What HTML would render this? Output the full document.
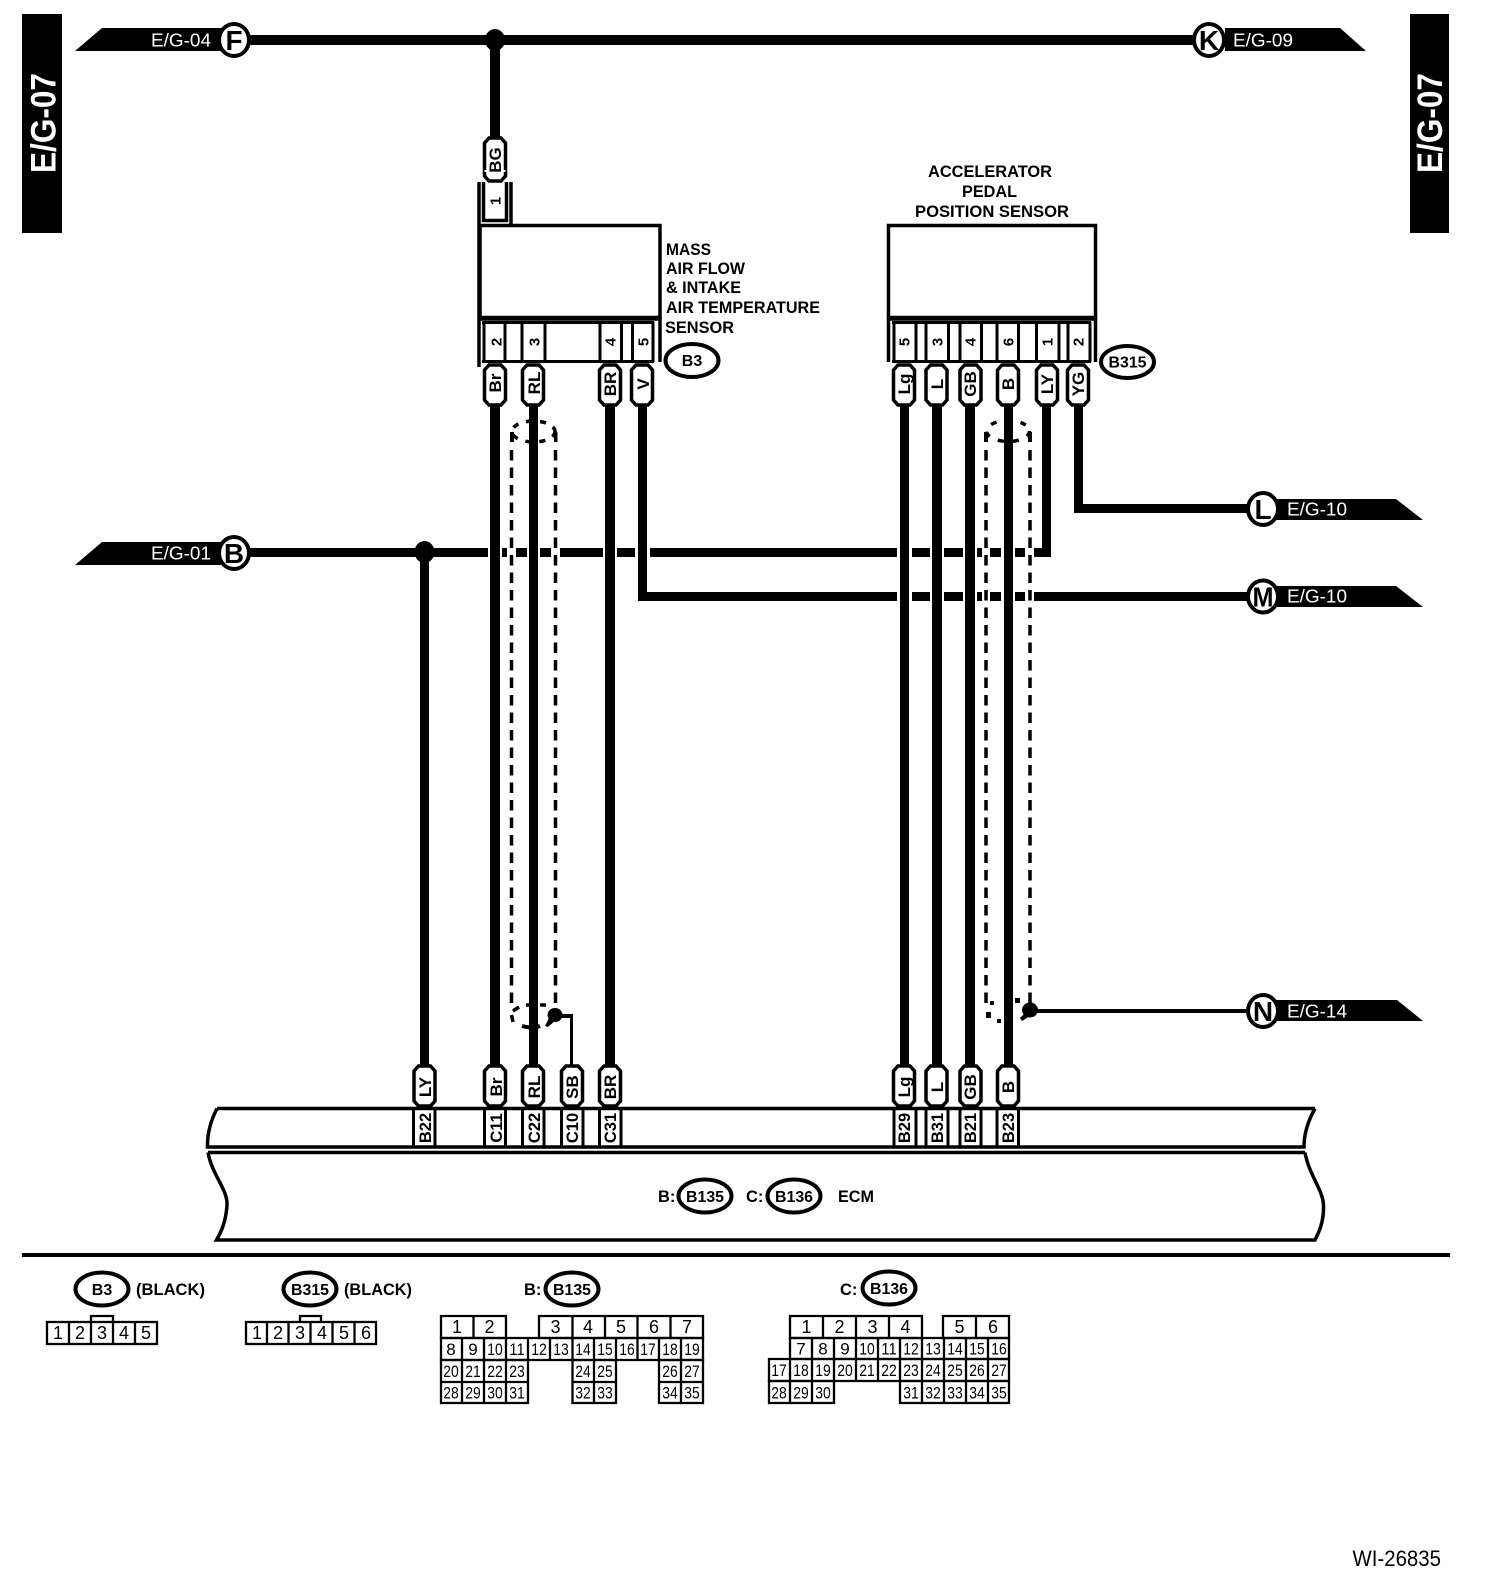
<!DOCTYPE html>
<html>
<head>
<meta charset="utf-8">
<title>WI-26835</title>
<style>
html,body{margin:0;padding:0;background:#fff;width:1504px;height:1596px;overflow:hidden}
svg{display:block}
text{font-family:"Liberation Sans",sans-serif;fill:#000}
.b{font-weight:bold}
.w{fill:#fff;font-size:18.5px}
.rot{font-weight:bold;font-size:15px;text-anchor:middle}
.rl{font-weight:bold;font-size:17px;text-anchor:middle}
.rc{font-weight:bold;font-size:16.5px;text-anchor:middle}
.ll{font-weight:bold;font-size:16.5px}
.oc{font-weight:bold;font-size:16px;text-anchor:middle}
.let{font-weight:bold;font-size:28px;text-anchor:middle}
.g{font-size:17px;text-anchor:middle}
.g1{font-size:18px;text-anchor:middle}
</style>
</head>
<body>
<svg xmlns="http://www.w3.org/2000/svg" width="1504" height="1596" viewBox="0 0 1504 1596">
<defs>
<path id="pill" d="M-6,0 H6 L10.5,5 V35 L6,40 H-6 L-10.5,35 V5 Z" fill="#fff" stroke="#000" stroke-width="3.5"/>
</defs>
<rect width="1504" height="1596" fill="#fff"/>

<!-- side bars -->
<rect x="22" y="14" width="40" height="219" fill="#000"/>
<rect x="1410" y="14" width="39" height="219" fill="#000"/>
<text class="b" style="fill:#fff;font-size:35px" text-anchor="middle" transform="translate(43,123) rotate(-90)" dy=".36em" textLength="100" lengthAdjust="spacingAndGlyphs">E/G-07</text>
<text class="b" style="fill:#fff;font-size:35px" text-anchor="middle" transform="translate(1429.5,123) rotate(-90)" dy=".36em" textLength="100" lengthAdjust="spacingAndGlyphs">E/G-07</text>

<!-- flags -->
<g fill="#000">
<polygon points="75,51 102,28 222,28 222,51"/>
<polygon points="1225,28 1340,28 1366,51 1225,51"/>
<polygon points="75,565 102,542 222,542 222,565"/>
<polygon points="1275,499 1396,499 1423,520 1275,520"/>
<polygon points="1275,586 1396,586 1423,607 1275,607"/>
<polygon points="1275,1000 1397,1000 1423,1021 1275,1021"/>
</g>
<text class="w" x="151" y="46.5" textLength="60" lengthAdjust="spacingAndGlyphs">E/G-04</text>
<text class="w" x="1233" y="46.5" textLength="60" lengthAdjust="spacingAndGlyphs">E/G-09</text>
<text class="w" x="151" y="559.5" textLength="60" lengthAdjust="spacingAndGlyphs">E/G-01</text>
<text class="w" x="1287" y="515.5" textLength="60" lengthAdjust="spacingAndGlyphs">E/G-10</text>
<text class="w" x="1287" y="602.5" textLength="60" lengthAdjust="spacingAndGlyphs">E/G-10</text>
<text class="w" x="1287" y="1017.5" textLength="60" lengthAdjust="spacingAndGlyphs">E/G-14</text>

<!-- thick wires -->
<g fill="#000">
<rect x="245" y="35" width="950" height="10"/>
<rect x="490" y="40" width="10" height="97"/>
<ellipse cx="495" cy="40" rx="10" ry="11"/>
<!-- B line segments -->
<rect x="240" y="548" width="248" height="9"/>
<rect x="502" y="548" width="5" height="9"/>
<rect x="516" y="548" width="11" height="9"/>
<rect x="540" y="548" width="11" height="9"/>
<rect x="560" y="548" width="43" height="9"/>
<rect x="617" y="548" width="18" height="9"/>
<rect x="650" y="548" width="247" height="9"/>
<rect x="912" y="548" width="18" height="9"/>
<rect x="944" y="548" width="19" height="9"/>
<rect x="977" y="548" width="5" height="9"/>
<rect x="990" y="548" width="11" height="9"/>
<rect x="1015" y="548" width="10" height="9"/>
<rect x="1034" y="548" width="17" height="9"/>
<rect x="1042" y="405" width="9" height="152"/>
<ellipse cx="424.5" cy="552" rx="10" ry="11"/>
<rect x="420" y="552" width="9" height="513"/>
<!-- M line segments -->
<rect x="638" y="405" width="9" height="196"/>
<rect x="638" y="592" width="259" height="9"/>
<rect x="912" y="592" width="18" height="9"/>
<rect x="944" y="592" width="19" height="9"/>
<rect x="977" y="592" width="5" height="9"/>
<rect x="990" y="592" width="11" height="9"/>
<rect x="1015" y="592" width="10" height="9"/>
<rect x="1034" y="592" width="220" height="9"/>
<!-- YG -->
<rect x="1074" y="405" width="9" height="107"/>
<rect x="1074" y="504" width="180" height="9"/>
<!-- verticals -->
<rect x="490" y="405" width="10" height="660"/>
<rect x="529" y="405" width="9" height="660"/>
<rect x="605" y="405" width="10" height="660"/>
<rect x="900" y="405" width="9" height="660"/>
<rect x="932" y="405" width="10" height="660"/>
<rect x="965" y="405" width="10" height="660"/>
<rect x="1004" y="405" width="9" height="660"/>
</g>

<!-- shields -->
<g stroke="#000" stroke-width="3.5" fill="none">
<path d="M511.5,450V1003M555.5,450V1003M986,450V1003M1030,450V1003" stroke-dasharray="10.5 7"/>
<ellipse cx="533.5" cy="431.5" rx="21.5" ry="10.5" stroke-dasharray="6 8"/>
<ellipse cx="1008" cy="431" rx="21.5" ry="10.5" stroke-dasharray="6 9"/>
<path d="M519,1007 L513,1011 M511.5,1015 L513,1022" stroke-width="3.5"/>
<path d="M522,1026 Q532,1029 540,1026" stroke-width="4"/>
<path d="M526,1005 H530 M540,1005 H546" stroke-width="3.5"/>
</g>
<g fill="#000">
<rect x="510" y="432" width="4" height="10"/>
<rect x="554" y="432" width="3.5" height="10"/>
<rect x="984" y="432" width="4" height="10"/>
<rect x="1028" y="432" width="4" height="10"/>
<ellipse cx="555" cy="1015" rx="7.5" ry="7"/>
<polygon points="549,1018 556,1020 548,1027 545,1026"/>
<rect x="555" y="1014" width="18" height="4"/>
<rect x="570" y="1014" width="3" height="52"/>
<ellipse cx="1030" cy="1010" rx="8" ry="7.5"/>
<polygon points="1024,1014 1030,1016 1022,1021 1020,1018"/>
<rect x="1030" y="1009" width="216" height="4"/>
<rect x="990" y="1001" width="4" height="4"/>
<rect x="986" y="1012" width="5" height="6"/>
<rect x="997" y="1019" width="4" height="4"/>
<rect x="1015" y="998" width="5" height="5"/>
</g>

<!-- letter circles -->
<g fill="#fff" stroke="#000" stroke-width="4">
<ellipse cx="234" cy="40" rx="15" ry="16"/>
<ellipse cx="1209" cy="40" rx="15" ry="16"/>
<ellipse cx="234" cy="553" rx="15" ry="16"/>
<ellipse cx="1263" cy="509" rx="15" ry="16"/>
<ellipse cx="1263" cy="596.5" rx="15" ry="16"/>
<ellipse cx="1263" cy="1011" rx="15" ry="16"/>
</g>
<text class="let" x="234" y="50">F</text>
<text class="let" x="1209" y="50">K</text>
<text class="let" x="234" y="563">B</text>
<text class="let" x="1263" y="519">L</text>
<text class="let" x="1263" y="606.5" textLength="21" lengthAdjust="spacingAndGlyphs">M</text>
<text class="let" x="1263" y="1021">N</text>

<!-- MAF sensor -->
<g fill="none" stroke="#000" stroke-width="3.5">
<rect x="480" y="225.5" width="180" height="92"/>
<path d="M479,182V367M511,182V224M660,317V362"/>
<path d="M483.5,182V220.5H506.5V182" fill="#fff" stroke-width="3.5"/>
<path d="M480,319H660" stroke-width="3.5"/>
<path d="M482,322.5H654M482,361.5H654" stroke-width="3"/>
<path d="M484,322V362M505,322V362M522,322V362M545,322V362M600,322V362M621.5,322V362M632.5,322V362M653,322V362" stroke-width="3"/>
</g>
<!-- APP sensor -->
<g fill="none" stroke="#000" stroke-width="3.5">
<rect x="888.5" y="225.5" width="207" height="92"/>
<path d="M888.5,317V362M1095.5,317V362"/>
<path d="M888,319H1096"/>
<path d="M892,322.5H1091M892,361.5H1091" stroke-width="3"/>
<path d="M894,322V362M916,322V362M926,322V362M948.5,322V362M960,322V362M981.5,322V362M997,322V362M1018.5,322V362M1036.5,322V362M1059,322V362M1068,322V362M1090,322V362" stroke-width="3"/>
</g>

<!-- pills -->
<use href="#pill" x="495" y="138" />
<rect x="484.5" y="170" width="21" height="10" fill="#fff"/>
<path d="M484.5,172V176L489,181H501L505.5,176V172" fill="none" stroke="#000" stroke-width="3.5"/>
<use href="#pill" x="495" y="365"/>
<use href="#pill" x="533" y="365"/>
<use href="#pill" x="610" y="365"/>
<use href="#pill" x="642" y="365"/>
<use href="#pill" x="904" y="365"/>
<use href="#pill" x="936.5" y="365"/>
<use href="#pill" x="970.5" y="365"/>
<use href="#pill" x="1008" y="365"/>
<use href="#pill" x="1047" y="365"/>
<use href="#pill" x="1078" y="365"/>
<use href="#pill" x="424.5" y="1066"/>
<use href="#pill" x="495" y="1066"/>
<use href="#pill" x="533" y="1066"/>
<use href="#pill" x="572" y="1066"/>
<use href="#pill" x="610" y="1066"/>
<use href="#pill" x="904" y="1066"/>
<use href="#pill" x="936.5" y="1066"/>
<use href="#pill" x="970.5" y="1066"/>
<use href="#pill" x="1008" y="1066"/>

<!-- rotated labels -->
<text class="rl" transform="translate(495,160) rotate(-90)" dy=".36em">BG</text>
<text class="rot" transform="translate(495,201) rotate(-90)" dy=".36em">1</text>
<text class="rot" transform="translate(496,342) rotate(-90)" dy=".36em">2</text>
<text class="rot" transform="translate(534,342) rotate(-90)" dy=".36em">3</text>
<text class="rot" transform="translate(610,342) rotate(-90)" dy=".36em">4</text>
<text class="rot" transform="translate(643,342) rotate(-90)" dy=".36em">5</text>
<text class="rot" transform="translate(904,342) rotate(-90)" dy=".36em">5</text>
<text class="rot" transform="translate(937,342) rotate(-90)" dy=".36em">3</text>
<text class="rot" transform="translate(970,342) rotate(-90)" dy=".36em">4</text>
<text class="rot" transform="translate(1008,342) rotate(-90)" dy=".36em">6</text>
<text class="rot" transform="translate(1047,342) rotate(-90)" dy=".36em">1</text>
<text class="rot" transform="translate(1078,342) rotate(-90)" dy=".36em">2</text>

<text class="rl" transform="translate(495,383) rotate(-90)" dy=".36em">Br</text>
<text class="rl" transform="translate(534,383) rotate(-90)" dy=".36em">RL</text>
<text class="rl" transform="translate(610,384) rotate(-90)" dy=".36em">BR</text>
<text class="rl" transform="translate(643,384) rotate(-90)" dy=".36em">V</text>
<text class="rl" transform="translate(904,384) rotate(-90)" dy=".36em">Lg</text>
<text class="rl" transform="translate(937,384) rotate(-90)" dy=".36em">L</text>
<text class="rl" transform="translate(970,384) rotate(-90)" dy=".36em">GB</text>
<text class="rl" transform="translate(1008,384) rotate(-90)" dy=".36em">B</text>
<text class="rl" transform="translate(1047,384) rotate(-90)" dy=".36em">LY</text>
<text class="rl" transform="translate(1078,384) rotate(-90)" dy=".36em">YG</text>

<text class="rl" transform="translate(425,1087) rotate(-90)" dy=".36em">LY</text>
<text class="rl" transform="translate(496,1087) rotate(-90)" dy=".36em">Br</text>
<text class="rl" transform="translate(534,1087) rotate(-90)" dy=".36em">RL</text>
<text class="rl" transform="translate(572,1087) rotate(-90)" dy=".36em">SB</text>
<text class="rl" transform="translate(610,1087) rotate(-90)" dy=".36em">BR</text>
<text class="rl" transform="translate(904,1087) rotate(-90)" dy=".36em">Lg</text>
<text class="rl" transform="translate(937,1087) rotate(-90)" dy=".36em">L</text>
<text class="rl" transform="translate(970,1087) rotate(-90)" dy=".36em">GB</text>
<text class="rl" transform="translate(1008,1087) rotate(-90)" dy=".36em">B</text>

<!-- sensor labels -->
<text class="ll" x="666" y="255" textLength="45" lengthAdjust="spacingAndGlyphs">MASS</text>
<text class="ll" x="666" y="274" textLength="79" lengthAdjust="spacingAndGlyphs">AIR FLOW</text>
<text class="ll" x="666" y="293" textLength="75" lengthAdjust="spacingAndGlyphs">&amp; INTAKE</text>
<text class="ll" x="666" y="313" textLength="154" lengthAdjust="spacingAndGlyphs">AIR TEMPERATURE</text>
<text class="ll" x="665" y="333" textLength="69" lengthAdjust="spacingAndGlyphs">SENSOR</text>
<text class="ll" x="928" y="177" textLength="124" lengthAdjust="spacingAndGlyphs">ACCELERATOR</text>
<text class="ll" x="962" y="197" textLength="55" lengthAdjust="spacingAndGlyphs">PEDAL</text>
<text class="ll" x="915" y="217" textLength="154" lengthAdjust="spacingAndGlyphs">POSITION SENSOR</text>

<!-- connector ovals -->
<g fill="#fff" stroke="#000" stroke-width="4">
<ellipse cx="692" cy="360.5" rx="26.5" ry="16.5"/>
<ellipse cx="1127.5" cy="362" rx="26.5" ry="16"/>
<ellipse cx="705" cy="1196" rx="26.5" ry="16.5"/>
<ellipse cx="794" cy="1196" rx="26.5" ry="16.5"/>
<ellipse cx="102" cy="1289" rx="26.5" ry="16.5"/>
<ellipse cx="310" cy="1289" rx="26.5" ry="16.5"/>
<ellipse cx="572" cy="1289" rx="26.5" ry="16.5"/>
<ellipse cx="889" cy="1288" rx="26.5" ry="16.5"/>
</g>
<text class="oc" x="692" y="366">B3</text>
<text class="oc" x="1127.5" y="367.5" textLength="38" lengthAdjust="spacingAndGlyphs">B315</text>
<text class="oc" x="705" y="1202" textLength="38" lengthAdjust="spacingAndGlyphs">B135</text>
<text class="oc" x="794" y="1202" textLength="38" lengthAdjust="spacingAndGlyphs">B136</text>
<text class="oc" x="102" y="1295">B3</text>
<text class="oc" x="310" y="1295" textLength="38" lengthAdjust="spacingAndGlyphs">B315</text>
<text class="oc" x="572" y="1295" textLength="38" lengthAdjust="spacingAndGlyphs">B135</text>
<text class="oc" x="889" y="1294" textLength="38" lengthAdjust="spacingAndGlyphs">B136</text>
<text class="ll" x="658" y="1202">B:</text>
<text class="ll" x="746" y="1202">C:</text>
<text class="ll" x="838" y="1202" textLength="36" lengthAdjust="spacingAndGlyphs">ECM</text>
<text class="ll" x="136" y="1295" textLength="69" lengthAdjust="spacingAndGlyphs">(BLACK)</text>
<text class="ll" x="344" y="1295" textLength="68" lengthAdjust="spacingAndGlyphs">(BLACK)</text>
<text class="ll" x="524" y="1295">B:</text>
<text class="ll" x="840" y="1295">C:</text>

<!-- ECM -->
<g fill="none" stroke="#000" stroke-width="3.5">
<path d="M217,1108.5H1315"/>
<path d="M217,1108.5Q207,1128 207.5,1147 H1304 Q1304,1128 1315,1108.5"/>
<path d="M208,1152.5 H1305"/>
<path d="M208,1152.5 C212,1175 228,1190 227,1205 C226,1222 221,1232 216.5,1240 H1315 C1319,1232 1324,1222 1323.5,1205 C1323,1190 1309,1175 1305,1152.5"/>
<path d="M413.5,1110V1146M435,1110V1146M484.5,1110V1146M505.5,1110V1146M522.5,1110V1146M544,1110V1146M561.5,1110V1146M583,1110V1146M599.5,1110V1146M621,1110V1146M894,1110V1146M916,1110V1146M926,1110V1146M948,1110V1146M960,1110V1146M981,1110V1146M997,1110V1146M1018.5,1110V1146" stroke-width="3"/>
</g>
<text class="rc" transform="translate(425,1128) rotate(-90)" dy=".36em">B22</text>
<text class="rc" transform="translate(496,1128) rotate(-90)" dy=".36em">C11</text>
<text class="rc" transform="translate(534,1128) rotate(-90)" dy=".36em">C22</text>
<text class="rc" transform="translate(572,1128) rotate(-90)" dy=".36em">C10</text>
<text class="rc" transform="translate(610,1128) rotate(-90)" dy=".36em">C31</text>
<text class="rc" transform="translate(904,1128) rotate(-90)" dy=".36em">B29</text>
<text class="rc" transform="translate(937,1128) rotate(-90)" dy=".36em">B31</text>
<text class="rc" transform="translate(970,1128) rotate(-90)" dy=".36em">B21</text>
<text class="rc" transform="translate(1008,1128) rotate(-90)" dy=".36em">B23</text>

<!-- divider -->
<rect x="22" y="1253" width="1428" height="4" fill="#000"/>

<!-- legend connectors -->
<g fill="none" stroke="#000" stroke-width="2.3">
<rect x="47" y="1322" width="110" height="22"/>
<path d="M69,1322V1344M91,1322V1344M113,1322V1344M135,1322V1344M91,1322V1316H113V1322"/>
<rect x="246" y="1322" width="130" height="22"/>
<path d="M267,1322V1344M288.5,1322V1344M310.5,1322V1344M332.5,1322V1344M354.5,1322V1344M300,1322V1316H321V1322"/>
<!-- B135 -->
<path d="M441,1316H506V1338H441ZM473.5,1316V1338M539,1316H703V1338H539ZM572.5,1316V1338M605,1316V1338M637.5,1316V1338M670.5,1316V1338"/>
<path d="M441,1338H703V1360H441ZM462,1338V1360M484,1338V1360M506,1338V1360M528,1338V1360M550,1338V1360M572.5,1338V1360M594,1338V1360M616,1338V1360M637.5,1338V1360M659,1338V1360M681,1338V1360"/>
<path d="M441,1360H528V1403H441ZM441,1382H528M462,1360V1403M484,1360V1403M506,1360V1403M572.5,1360H616V1403H572.5ZM572.5,1382H616M594,1360V1403M659,1360H703V1403H659ZM659,1382H703M681,1360V1403"/>
<!-- B136 -->
<path d="M790,1316H922V1338H790ZM823,1316V1338M856,1316V1338M889,1316V1338M943,1316H1009V1338H943ZM976,1316V1338"/>
<path d="M790,1338H1009V1359H790ZM812,1338V1359M834,1338V1359M856,1338V1359M878,1338V1359M900,1338V1359M922,1338V1359M944,1338V1359M966,1338V1359M988,1338V1359"/>
<path d="M769,1359H1009V1381H769ZM790,1359V1381M812,1359V1381M834,1359V1381M856,1359V1381M878,1359V1381M900,1359V1381M922,1359V1381M944,1359V1381M966,1359V1381M988,1359V1381"/>
<path d="M769,1381H834V1403H769ZM790,1381V1403M812,1381V1403M900,1381H1009V1403H900ZM922,1381V1403M944,1381V1403M966,1381V1403M988,1381V1403"/>
</g>

<!-- legend digits -->
<text class="g1" x="58" y="1339">1</text><text class="g1" x="80" y="1339">2</text><text class="g1" x="102" y="1339">3</text><text class="g1" x="124" y="1339">4</text><text class="g1" x="146" y="1339">5</text>
<text class="g1" x="257" y="1339">1</text><text class="g1" x="278" y="1339">2</text><text class="g1" x="300" y="1339">3</text><text class="g1" x="322" y="1339">4</text><text class="g1" x="344" y="1339">5</text><text class="g1" x="366" y="1339">6</text>
<text class="g1" x="457" y="1333">1</text><text class="g1" x="489.5" y="1333">2</text><text class="g1" x="555.5" y="1333">3</text><text class="g1" x="588" y="1333">4</text><text class="g1" x="621" y="1333">5</text><text class="g1" x="654" y="1333">6</text><text class="g1" x="687" y="1333">7</text>
<text class="g1" x="806.5" y="1333">1</text><text class="g1" x="839.5" y="1333">2</text><text class="g1" x="872.5" y="1333">3</text><text class="g1" x="905.5" y="1333">4</text><text class="g1" x="959.5" y="1333">5</text><text class="g1" x="993" y="1333">6</text>

<g lengthAdjust="spacingAndGlyphs">
<text class="g" x="451" y="1355">8</text><text class="g" x="473" y="1355">9</text><text class="g" x="495" y="1355" textLength="15.5" lengthAdjust="spacingAndGlyphs">10</text><text class="g" x="517" y="1355" textLength="15.5" lengthAdjust="spacingAndGlyphs">11</text><text class="g" x="539" y="1355" textLength="15.5" lengthAdjust="spacingAndGlyphs">12</text><text class="g" x="561" y="1355" textLength="15.5" lengthAdjust="spacingAndGlyphs">13</text><text class="g" x="583" y="1355" textLength="15.5" lengthAdjust="spacingAndGlyphs">14</text><text class="g" x="605" y="1355" textLength="15.5" lengthAdjust="spacingAndGlyphs">15</text><text class="g" x="627" y="1355" textLength="15.5" lengthAdjust="spacingAndGlyphs">16</text><text class="g" x="648" y="1355" textLength="15.5" lengthAdjust="spacingAndGlyphs">17</text><text class="g" x="670" y="1355" textLength="15.5" lengthAdjust="spacingAndGlyphs">18</text><text class="g" x="692" y="1355" textLength="15.5" lengthAdjust="spacingAndGlyphs">19</text>
<text class="g" x="451" y="1377" textLength="15.5" lengthAdjust="spacingAndGlyphs">20</text><text class="g" x="473" y="1377" textLength="15.5" lengthAdjust="spacingAndGlyphs">21</text><text class="g" x="495" y="1377" textLength="15.5" lengthAdjust="spacingAndGlyphs">22</text><text class="g" x="517" y="1377" textLength="15.5" lengthAdjust="spacingAndGlyphs">23</text><text class="g" x="583" y="1377" textLength="15.5" lengthAdjust="spacingAndGlyphs">24</text><text class="g" x="605" y="1377" textLength="15.5" lengthAdjust="spacingAndGlyphs">25</text><text class="g" x="670" y="1377" textLength="15.5" lengthAdjust="spacingAndGlyphs">26</text><text class="g" x="692" y="1377" textLength="15.5" lengthAdjust="spacingAndGlyphs">27</text>
<text class="g" x="451" y="1398.5" textLength="15.5" lengthAdjust="spacingAndGlyphs">28</text><text class="g" x="473" y="1398.5" textLength="15.5" lengthAdjust="spacingAndGlyphs">29</text><text class="g" x="495" y="1398.5" textLength="15.5" lengthAdjust="spacingAndGlyphs">30</text><text class="g" x="517" y="1398.5" textLength="15.5" lengthAdjust="spacingAndGlyphs">31</text><text class="g" x="583" y="1398.5" textLength="15.5" lengthAdjust="spacingAndGlyphs">32</text><text class="g" x="605" y="1398.5" textLength="15.5" lengthAdjust="spacingAndGlyphs">33</text><text class="g" x="670" y="1398.5" textLength="15.5" lengthAdjust="spacingAndGlyphs">34</text><text class="g" x="692" y="1398.5" textLength="15.5" lengthAdjust="spacingAndGlyphs">35</text>

<text class="g" x="801" y="1354.5">7</text><text class="g" x="823" y="1354.5">8</text><text class="g" x="845" y="1354.5">9</text><text class="g" x="867" y="1354.5" textLength="15.5" lengthAdjust="spacingAndGlyphs">10</text><text class="g" x="889" y="1354.5" textLength="15.5" lengthAdjust="spacingAndGlyphs">11</text><text class="g" x="911" y="1354.5" textLength="15.5" lengthAdjust="spacingAndGlyphs">12</text><text class="g" x="933" y="1354.5" textLength="15.5" lengthAdjust="spacingAndGlyphs">13</text><text class="g" x="955" y="1354.5" textLength="15.5" lengthAdjust="spacingAndGlyphs">14</text><text class="g" x="977" y="1354.5" textLength="15.5" lengthAdjust="spacingAndGlyphs">15</text><text class="g" x="999" y="1354.5" textLength="15.5" lengthAdjust="spacingAndGlyphs">16</text>
<text class="g" x="779" y="1376" textLength="15.5" lengthAdjust="spacingAndGlyphs">17</text><text class="g" x="801" y="1376" textLength="15.5" lengthAdjust="spacingAndGlyphs">18</text><text class="g" x="823" y="1376" textLength="15.5" lengthAdjust="spacingAndGlyphs">19</text><text class="g" x="845" y="1376" textLength="15.5" lengthAdjust="spacingAndGlyphs">20</text><text class="g" x="867" y="1376" textLength="15.5" lengthAdjust="spacingAndGlyphs">21</text><text class="g" x="889" y="1376" textLength="15.5" lengthAdjust="spacingAndGlyphs">22</text><text class="g" x="911" y="1376" textLength="15.5" lengthAdjust="spacingAndGlyphs">23</text><text class="g" x="933" y="1376" textLength="15.5" lengthAdjust="spacingAndGlyphs">24</text><text class="g" x="955" y="1376" textLength="15.5" lengthAdjust="spacingAndGlyphs">25</text><text class="g" x="977" y="1376" textLength="15.5" lengthAdjust="spacingAndGlyphs">26</text><text class="g" x="999" y="1376" textLength="15.5" lengthAdjust="spacingAndGlyphs">27</text>
<text class="g" x="779" y="1398.5" textLength="15.5" lengthAdjust="spacingAndGlyphs">28</text><text class="g" x="801" y="1398.5" textLength="15.5" lengthAdjust="spacingAndGlyphs">29</text><text class="g" x="823" y="1398.5" textLength="15.5" lengthAdjust="spacingAndGlyphs">30</text><text class="g" x="911" y="1398.5" textLength="15.5" lengthAdjust="spacingAndGlyphs">31</text><text class="g" x="933" y="1398.5" textLength="15.5" lengthAdjust="spacingAndGlyphs">32</text><text class="g" x="955" y="1398.5" textLength="15.5" lengthAdjust="spacingAndGlyphs">33</text><text class="g" x="977" y="1398.5" textLength="15.5" lengthAdjust="spacingAndGlyphs">34</text><text class="g" x="999" y="1398.5" textLength="15.5" lengthAdjust="spacingAndGlyphs">35</text>
</g>

<text x="1352.5" y="1566" style="font-size:22px" textLength="88.5" lengthAdjust="spacingAndGlyphs">WI-26835</text>
</svg>
</body>
</html>
